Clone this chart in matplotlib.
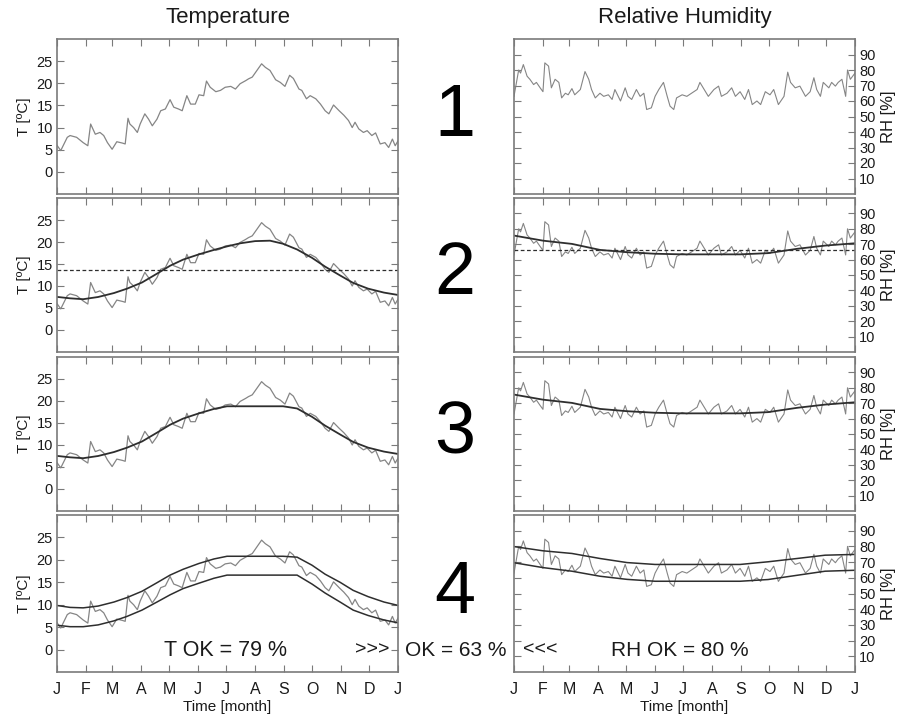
import numpy as np
import matplotlib
matplotlib.use('Agg')
import matplotlib.pyplot as plt

plt.rcParams['font.family'] = ['Liberation Sans', 'DejaVu Sans']

# observed daily temperature (sampled), day of year / degC
t_day = [0, 4, 11, 14, 21, 28, 33, 36, 41, 46, 50, 54, 59, 64, 70, 73, 76, 78, 82, 86,
         89, 94, 98, 102, 107, 111, 116, 121, 125, 130, 134, 139, 143, 148, 152, 157,
         160, 164, 170, 175, 180, 186, 191, 196, 202, 205, 209, 214, 219, 223, 228,
         234, 239, 244, 249, 253, 259, 262, 267, 271, 277, 282, 287, 291, 296, 302,
         307, 312, 316, 319, 323, 328, 332, 337, 341, 346, 351, 355, 359, 362, 365]
t_obs = [6.0, 4.8, 7.8, 8.2, 7.8, 6.6, 5.9, 10.8, 8.5, 8.9, 8.2, 6.6, 5.1, 6.8, 6.5, 6.3,
         12.1, 10.8, 10.0, 8.9, 10.8, 13.1, 11.9, 10.4, 11.9, 13.8, 14.2, 16.3, 14.6,
         14.2, 13.8, 17.2, 15.3, 15.3, 17.4, 17.2, 20.5, 19.1, 18.1, 18.4, 19.1, 19.3,
         18.7, 19.9, 20.6, 21.0, 21.4, 22.9, 24.4, 23.6, 22.9, 20.8, 20.2, 19.3, 21.8,
         21.1, 18.7, 18.4, 16.5, 17.2, 16.5, 15.3, 13.8, 13.1, 15.1, 13.8, 12.8, 11.6,
         10.0, 11.2, 9.7, 8.9, 9.3, 8.2, 8.8, 6.3, 6.6, 5.5, 7.4, 5.9, 7.0]

# observed daily relative humidity (sampled), day of year / %
rh_day = [0, 5, 7, 10, 14, 17, 21, 24, 28, 31, 33, 37, 40, 44, 48, 51, 55, 58, 62, 65,
          71, 76, 80, 83, 87, 92, 96, 101, 105, 108, 114, 119, 122, 126, 131, 135, 139,
          142, 147, 151, 155, 160, 164, 167, 171, 174, 180, 185, 190, 196, 199, 205,
          208, 214, 219, 222, 228, 233, 237, 242, 247, 251, 255, 260, 264, 269, 274,
          278, 283, 289, 293, 296, 301, 306, 312, 317, 321, 324, 328, 331, 337, 340,
          344, 347, 351, 355, 357, 360, 365]
rh_obs = [63, 80, 78, 83.5, 76, 74, 70.6, 72, 68.5, 66, 84.6, 82.5, 68.5, 74, 72, 62, 65,
          64, 68, 64, 67.4, 79, 74, 67.4, 62, 65, 63, 64, 61, 67.4, 60, 68.5, 63, 61,
          67.4, 63, 65, 54.5, 55.6, 63, 67.4, 72, 63, 56.7, 54.5, 62, 64, 63, 65, 67.4,
          72, 66, 63, 67.4, 69.6, 63, 65, 68.5, 63, 66, 61, 67.4, 57.7, 60, 57.7, 66,
          64, 67.4, 57.7, 63, 78.6, 72, 68.5, 69.6, 63, 66, 75, 67.4, 63, 72, 68.5, 72,
          69.6, 72, 74, 63, 80, 74, 78]

# fitted seasonal curve and tolerance band for temperature
fit_day = [1, 14, 28, 44, 61, 75, 91, 107, 121, 135, 152, 168, 182, 196, 212, 228, 242,
           257, 273, 287, 303, 317, 333, 350, 364]
t_fit = [7.5, 7.2, 7.0, 7.5, 8.4, 9.4, 10.8, 12.8, 14.6, 16.0, 17.2, 18.2, 19.0, 19.7,
         20.2, 20.3, 19.6, 18.3, 16.4, 14.4, 12.4, 10.7, 9.4, 8.5, 8.0]
t_mean = 13.7
t_cap = 18.8
t_hi = [9.8, 9.4, 9.3, 9.7, 10.6, 11.6, 13.0, 14.9, 16.6, 17.9, 19.2, 20.2, 20.8, 20.8,
        20.8, 20.8, 20.8, 20.6, 18.8, 16.8, 15.0, 13.2, 11.8, 10.6, 9.9]
t_lo = [5.4, 5.1, 5.1, 5.5, 6.4, 7.4, 8.8, 10.6, 12.2, 13.6, 14.8, 15.9, 16.6, 16.6, 16.6,
        16.6, 16.6, 16.6, 14.6, 12.6, 10.6, 8.8, 7.6, 6.6, 6.0]

# fitted seasonal curve and tolerance band for humidity
rfit_day = [1, 31, 62, 92, 121, 151, 181, 212, 242, 272, 303, 333, 365]
rh_fit = [75.5, 72.3, 70.2, 66.3, 64.8, 63.8, 63.4, 63.4, 63.4, 64.2, 67.0, 69.1, 70.6]
rh_mean = 66.5
rh_hi = [79.8, 77.2, 75.5, 72.3, 69.7, 68.5, 68.5, 68.5, 68.5, 70.2, 72.3, 74.4, 74.9]
rh_lo = [69.5, 66.5, 64.2, 61.0, 59.0, 57.8, 57.8, 57.8, 57.8, 58.9, 61.6, 64.2, 64.8]

month_ticks = [0, 31, 59, 90, 120, 151, 181, 212, 243, 273, 304, 334, 365]
month_labels = ['J', 'F', 'M', 'A', 'M', 'J', 'J', 'A', 'S', 'O', 'N', 'D', 'J']

ok_t, ok_all, ok_rh = 79, 63, 80

W, H = 910, 719
tops = [39, 198, 357, 515]
bots = [194, 352, 511, 672]
obs_c = '#858585'
fit_c = '#2e2e2e'
frame_c = '#7a7a7a'
txt_c = '#1a1a1a'

fig = plt.figure(figsize=(W / 100, H / 100), dpi=100)


def style(ax, last):
    for s in ax.spines.values():
        s.set_color(frame_c)
        s.set_linewidth(1.2)
    ax.set_xlim(0, 365)
    ax.set_xticks(month_ticks)
    ax.tick_params(direction='in', length=5, color=frame_c, top=True, bottom=True,
                   left=True, right=True, labelsize=10.5, labelcolor=txt_c, pad=3)
    if last:
        ax.set_xticklabels(month_labels, fontsize=11.5)
        ax.tick_params(axis='x', pad=7)
        ax.set_xlabel('Time [month]', fontsize=11, color=txt_c, labelpad=2)
    else:
        ax.set_xticklabels([])


for i in range(4):
    h = (bots[i] - tops[i]) / H
    y0 = 1 - bots[i] / H
    axT = fig.add_axes([57 / W, y0, 341 / W, h])
    axR = fig.add_axes([514 / W, y0, 341 / W, h])
    last = i == 3

    axT.plot(t_day, t_obs, color=obs_c, lw=0.9)
    axR.plot(rh_day, rh_obs, color=obs_c, lw=0.8)
    if i == 1:
        axT.plot(fit_day, t_fit, color=fit_c, lw=1.3)
        axT.axhline(t_mean, color=fit_c, lw=0.9, ls=(0, (3, 2)))
        axR.plot(rfit_day, rh_fit, color=fit_c, lw=1.3)
        axR.axhline(rh_mean, color=fit_c, lw=0.9, ls=(0, (3, 2)))
    elif i == 2:
        axT.plot(fit_day, np.minimum(t_fit, t_cap), color=fit_c, lw=1.3)
        axR.plot(rfit_day, rh_fit, color=fit_c, lw=1.3)
    elif i == 3:
        axT.plot(fit_day, t_hi, color=fit_c, lw=1.1)
        axT.plot(fit_day, t_lo, color=fit_c, lw=1.1)
        axR.plot(rfit_day, rh_hi, color=fit_c, lw=1.1)
        axR.plot(rfit_day, rh_lo, color=fit_c, lw=1.1)

    axT.set_ylim(-5, 30)
    axT.set_yticks([0, 5, 10, 15, 20, 25])
    axT.set_ylabel('T [ºC]', fontsize=11, color=txt_c, labelpad=4)
    style(axT, last)

    axR.set_ylim(0, 100)
    axR.set_yticks(range(10, 100, 10))
    style(axR, last)
    axR.tick_params(axis='y', labelleft=False, labelright=True, pad=3)
    axR.yaxis.set_label_position('right')
    axR.set_ylabel('RH [%]', fontsize=12, color=txt_c, labelpad=4)

    fig.text(455 / W, 1 - (tops[i] + bots[i]) / 2 / H, str(i + 1), fontsize=53,
             ha='center', va='center', color='black')

fig.text(228 / W, 1 - 18 / H, 'Temperature', fontsize=16, ha='center', va='center', color=txt_c)
fig.text(685 / W, 1 - 18 / H, 'Relative Humidity', fontsize=16, ha='center', va='center', color=txt_c)

fig.text(225 / W, 1 - 650 / H, 'T OK = %d %%' % ok_t, fontsize=15.5, ha='center', va='center', color=txt_c)
fig.text(372 / W, 1 - 650 / H, '>>>', fontsize=14, ha='center', va='center', color=txt_c)
fig.text(456 / W, 1 - 650 / H, 'OK = %d %%' % ok_all, fontsize=15, ha='center', va='center', color=txt_c)
fig.text(540 / W, 1 - 650 / H, '<<<', fontsize=14, ha='center', va='center', color=txt_c)
fig.text(680 / W, 1 - 650 / H, 'RH OK = %d %%' % ok_rh, fontsize=15, ha='center', va='center', color=txt_c)

fig.savefig('out.png', dpi=100, facecolor='white')
